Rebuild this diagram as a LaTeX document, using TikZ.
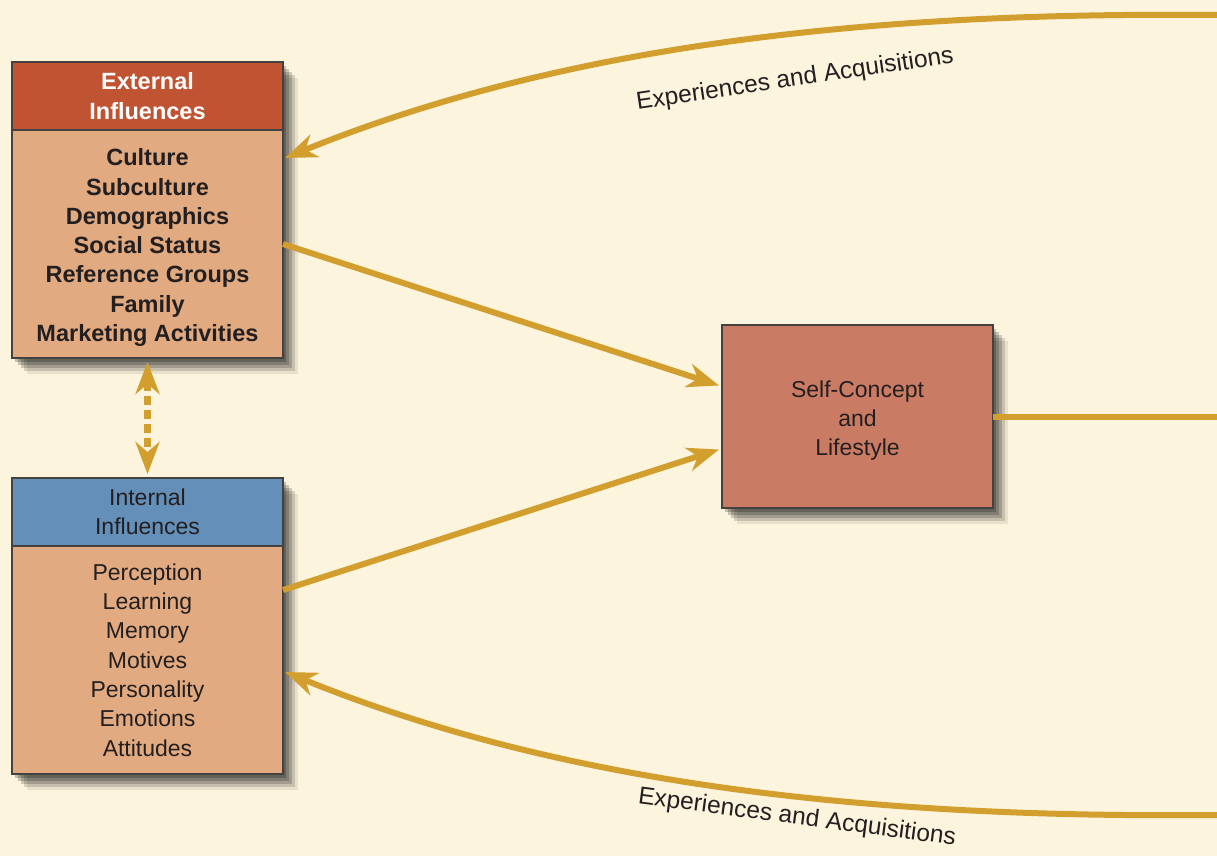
\documentclass[tikz,border=0pt]{standalone}
\usepackage{fontspec}
\setmainfont{Liberation Sans}
\usepackage[dvipsnames]{xcolor}
\usetikzlibrary{positioning,calc,arrows.meta}

\definecolor{paper}{RGB}{253,244,222}
\definecolor{gold}{RGB}{210,159,46}
\definecolor{rust}{RGB}{192,84,50}
\definecolor{tan}{RGB}{225,170,128}
\definecolor{steel}{RGB}{99,143,184}
\definecolor{clay}{RGB}{201,123,99}
\definecolor{ink}{RGB}{35,31,32}

\pgfdeclarelayer{background}
\pgfsetlayers{background,main}

\begin{document}
\begin{tikzpicture}[x=1pt,y=-1pt,
    box/.style={draw=ink!85,line width=1.2pt,inner sep=0pt,outer sep=0pt,minimum width=271pt,align=center,text=ink,font=\fontsize{23}{29.3}\selectfont},
    bold box/.style={box,font=\bfseries\fontsize{23.5}{29.3}\selectfont},
    shade box/.style={preaction={fill=black,opacity=.22,transform canvas={shift={(3pt,-4pt)}}},
        preaction={fill=black,opacity=.2,transform canvas={shift={(6pt,-7pt)}}},
        preaction={fill=black,opacity=.18,transform canvas={shift={(9pt,-10pt)}}},
        preaction={fill=black,opacity=.14,transform canvas={shift={(12pt,-13pt)}}},
        preaction={fill=black,opacity=.08,transform canvas={shift={(15pt,-16pt)}}}},
    flow/.style={draw=gold,line width=6pt,-{Stealth[length=32pt,width=24pt,inset=10pt]}},
    tag/.style={text=ink,font=\fontsize{24.5}{28}\selectfont}]
    \begin{pgfonlayer}{background}
        \fill[paper] (0,0) rectangle (1217,856);
    \end{pgfonlayer}
    \useasboundingbox (0,0) rectangle (1217,856);

    \node[bold box,fill=rust,text=white,minimum height=68pt] (exthead) at (147.5,96) {External\\Influences};
    \node[bold box,fill=tan,minimum height=228pt,text height=200pt,below=0pt of exthead] (extbody) {Culture\\Subculture\\Demographics\\Social Status\\Reference Groups\\Family\\Marketing Activities};
    \node[box,fill=steel,minimum height=68pt,below=120pt of extbody] (inthead) {Internal\\Influences};
    \node[box,fill=tan,minimum height=228pt,below=0pt of inthead] (intbody) {Perception\\Learning\\Memory\\Motives\\Personality\\Emotions\\Attitudes};
    \node[box,fill=clay,minimum height=183pt,text height=83pt] (self) at (857.5,416.5) {Self-Concept\\and\\Lifestyle};

    \begin{pgfonlayer}{background}
        \path[shade box] (exthead.north west) rectangle (extbody.south east);
        \path[shade box] (inthead.north west) rectangle (intbody.south east);
        \path[shade box] (self.north west) rectangle (self.south east);
    \end{pgfonlayer}

    \coordinate (topend) at (1217,15);
    \coordinate (botend) at (1217,815);
    \coordinate (rightend) at (1217,418);

    \draw[flow] (extbody.east) -- ($(self.west)+(-3,-31)$);
    \draw[flow] ($(intbody.east)+(0,-70)$) -- ($(self.west)+(-3,33)$);
    \draw[draw=gold,line width=6pt] (self.east) -- (self.east -| rightend);
    \draw[flow] (topend) .. controls (900,12) and (580,38) .. ($(extbody.north east)+(2,28)$);
    \draw[flow] (botend) .. controls (900,818) and (580,792) .. ($(intbody.north east)+(2,126)$);
    \draw[draw=gold,line width=6.5pt,dash pattern=on 9pt off 5pt,{Stealth[length=32pt,width=24pt,inset=10pt]}-{Stealth[length=32pt,width=24pt,inset=10pt]}] ($(extbody.south)+(0,4)$) -- ($(inthead.north)+(0,-4)$);

    \node[tag,rotate=8.5] (toplabel) at (795,80) {Experiences and Acquisitions};
    \node[tag,rotate=-7.5] (botlabel) at (797,818) {Experiences and Acquisitions};
\end{tikzpicture}
\end{document}
